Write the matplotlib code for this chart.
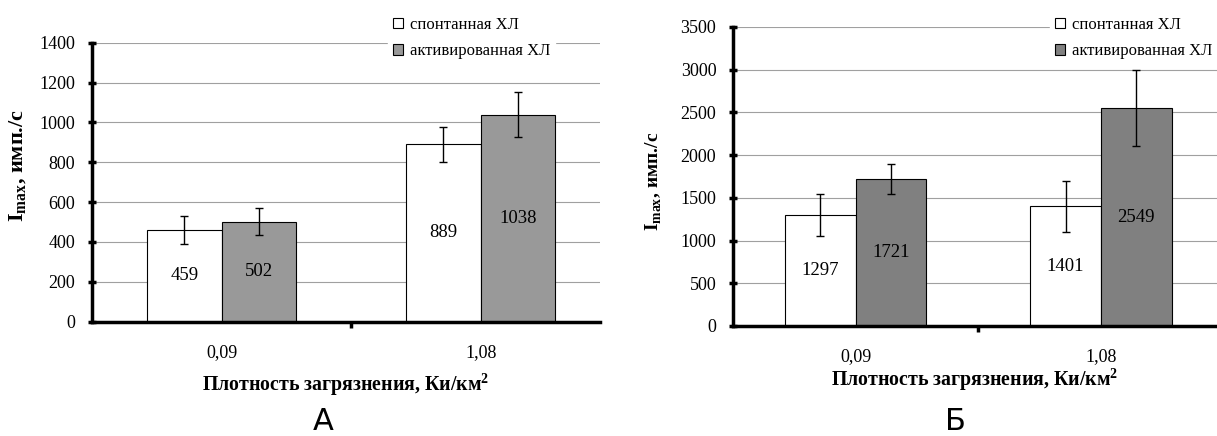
import matplotlib
matplotlib.use("Agg")
import matplotlib.pyplot as plt
import numpy as np
from matplotlib.patches import Patch

plt.rcParams["font.family"] = ["Liberation Serif", "DejaVu Serif"]
plt.rcParams["mathtext.fontset"] = "custom"
plt.rcParams["mathtext.rm"] = "Liberation Serif"
plt.rcParams["mathtext.bf"] = "Liberation Serif:bold"

categories = ["0,09", "1,08"]
series = ["спонтанная ХЛ", "активированная ХЛ"]

# panel A
a_spont = [459, 889]
a_activ = [502, 1038]
a_spont_err = [72, 90]
a_activ_err = [67, 112]

# panel Б
b_spont = [1297, 1401]
b_activ = [1721, 2549]
b_spont_err = [245, 300]
b_activ_err = [176, 442]

W, H = 1217, 436
fig = plt.figure(figsize=(W / 100, H / 100), dpi=100)


def panel(px, spont, activ, s_err, a_err, gray, ymax, ystep, xmax,
          ylab_size, ylab_pos, xlab_pad, letter, letter_x, leg_anchor):
    x0, x1, ytop, ybot = px
    ax = fig.add_axes([x0 / W, 1 - ybot / H, (x1 - x0) / W, (ybot - ytop) / H])
    x = np.arange(len(categories))
    w = 0.288
    ekw = dict(ecolor="black", elinewidth=1.0, capsize=3, capthick=1.0)
    ax.bar(x - w / 2, spont, w, color="white", edgecolor="black", linewidth=0.8,
           zorder=2, yerr=s_err, error_kw=ekw)
    ax.bar(x + w / 2, activ, w, color=gray, edgecolor="black", linewidth=0.8,
           zorder=2, yerr=a_err, error_kw=ekw)
    for xi, v in zip(x, spont):
        ax.text(xi - w / 2, v / 2, str(v), ha="center", va="center", fontsize=13.5, zorder=3)
    for xi, v in zip(x, activ):
        ax.text(xi + w / 2, v / 2, str(v), ha="center", va="center", fontsize=13.5, zorder=3)

    ax.set_xlim(-0.5, xmax)
    ax.set_ylim(0, ymax)
    ax.set_yticks(np.arange(0, ymax + 1, ystep))
    ax.set_xticks([0.5])
    ax.set_xticklabels([])
    for xi, c in zip(x, categories):
        ax.text(xi, -31 / (ybot - ytop), c, transform=ax.get_xaxis_transform(),
                ha="center", va="center", fontsize=13)
    ax.tick_params(axis="y", labelsize=13, direction="inout", length=6, width=2.5, pad=9)
    ax.tick_params(axis="x", direction="out", length=4.5, width=2.5)
    ax.yaxis.grid(True, color="#a0a0a0", linewidth=0.8, zorder=0)
    ax.set_axisbelow(True)
    for s in ["top", "right"]:
        ax.spines[s].set_visible(False)
    ax.spines["left"].set_linewidth(2.5)
    ax.spines["bottom"].set_linewidth(2.5)
    ax.set_ylabel(r"$\mathbf{I}_{\mathbf{max}}$, имп./с", fontsize=ylab_size, fontweight="bold")
    ax.yaxis.set_label_coords(*ylab_pos)
    ax.set_xlabel("Плотность загрязнения, Ки/км$^{\\mathbf{2}}$", fontsize=14.3,
                  fontweight="bold", labelpad=xlab_pad)
    handles = [Patch(facecolor="white", edgecolor="black", linewidth=0.8),
               Patch(facecolor=gray, edgecolor="black", linewidth=0.8)]
    leg = ax.legend(handles, series, loc="upper left", bbox_to_anchor=leg_anchor,
                    bbox_transform=fig.transFigure, frameon=True, fontsize=12,
                    handlelength=0.6, handleheight=0.6, handletextpad=0.4,
                    labelspacing=0.62, borderpad=0.3, borderaxespad=0)
    leg.get_frame().set_facecolor("white")
    leg.get_frame().set_edgecolor("white")
    leg.get_frame().set_alpha(1)
    leg.set_zorder(5)
    fig.text(letter_x / W, 1 - 421 / H, letter, fontsize=22, ha="center", va="center",
             family="DejaVu Sans")
    return ax


panel((92, 600, 42.7, 321.5), a_spont, a_activ, a_spont_err, a_activ_err,
      "#999999", 1400, 200, 1.46, 16, (-0.124, 0.56), 28, "А", 323,
      (388 / W, 1 - 12 / H))
panel((733, 1217, 27, 326), b_spont, b_activ, b_spont_err, b_activ_err,
      "#808080", 3500, 500, 1.473, 14, (-0.143, 0.485), 21, "Б", 955,
      (1050 / W, 1 - 12 / H))

fig.savefig("out.png", dpi=100)
